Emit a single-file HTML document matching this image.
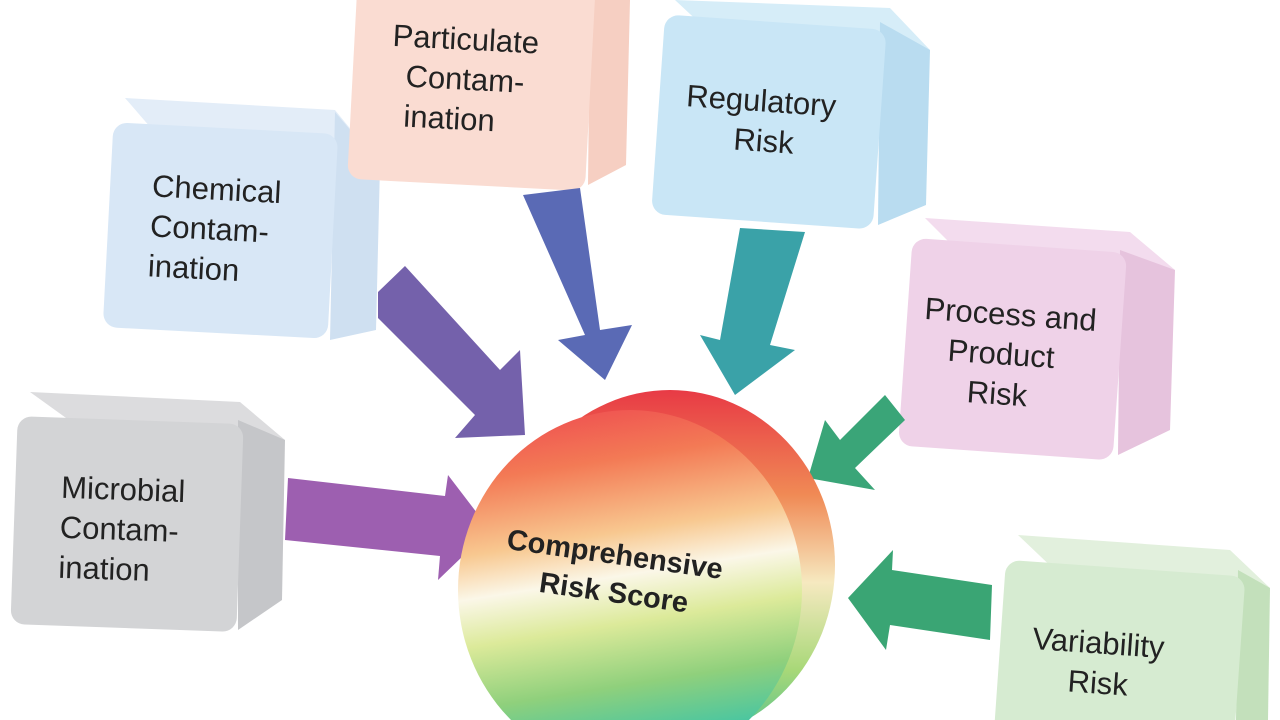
<!DOCTYPE html>
<html><head><meta charset="utf-8"><style>
html,body{margin:0;padding:0;background:#fff;width:1280px;height:720px;overflow:hidden;}
svg{display:block;}
text{font-family:"Liberation Sans",sans-serif;fill:#222;}
</style></head><body>
<svg width="1280" height="720" viewBox="0 0 1280 720">
<defs>
<linearGradient id="sph" x1="0" y1="0" x2="0.15" y2="1">
<stop offset="0" stop-color="#ee4650"/>
<stop offset="0.2" stop-color="#f37a55"/>
<stop offset="0.4" stop-color="#f8c890"/>
<stop offset="0.52" stop-color="#fbf7e8"/>
<stop offset="0.65" stop-color="#dcea9a"/>
<stop offset="0.82" stop-color="#8fd07c"/>
<stop offset="1" stop-color="#3cc4a8"/>
</linearGradient>
<linearGradient id="rim" x1="0" y1="0" x2="0" y2="1">
<stop offset="0" stop-color="#e83a45"/>
<stop offset="0.3" stop-color="#f08a55"/>
<stop offset="0.55" stop-color="#f6e9c0"/>
<stop offset="0.8" stop-color="#a8d878"/>
<stop offset="1" stop-color="#50c090"/>
</linearGradient>
</defs>

<polygon points="125,98 335,110 380,165 170,150" fill="#e3edf8"/>
<polygon points="335,112 380,165 376,330 330,340" fill="#cfe0f1"/>
<rect x="108" y="128" width="225" height="205" rx="14" fill="#d8e7f6" transform="rotate(3 220 230)"/>
<g transform="rotate(3 220 230)" font-size="31">
<text x="150" y="200">Chemical</text>
<text x="150" y="240">Contam-</text>
<text x="150" y="280">ination</text></g>

<polygon points="590,0 630,0 626,165 588,185" fill="#f6cfc2"/>
<rect x="352" y="-20" width="238" height="205" rx="14" fill="#fadcd2" transform="rotate(3 470 90)"/>
<g transform="rotate(3 470 90)" font-size="31">
<text x="390" y="50">Particulate</text>
<text x="405" y="90">Contam-</text>
<text x="405" y="130">ination</text></g>

<polygon points="675,0 890,8 930,50 720,42" fill="#d6edf8"/>
<polygon points="880,22 930,50 926,205 878,225" fill="#b9dcf0"/>
<rect x="658" y="22" width="222" height="200" rx="14" fill="#c9e6f6" transform="rotate(4 770 120)"/>
<g transform="rotate(4 770 120)" font-size="31">
<text x="685" y="112">Regulatory</text>
<text x="735" y="152">Risk</text></g>

<polygon points="925,218 1130,232 1175,270 965,258" fill="#f3dcee"/>
<polygon points="1120,250 1175,270 1170,430 1118,455" fill="#e6c3dd"/>
<rect x="905" y="245" width="215" height="208" rx="14" fill="#efd2e8" transform="rotate(4 1010 350)"/>
<g transform="rotate(4 1010 350)" font-size="31">
<text x="922" y="325">Process and</text>
<text x="948" y="365">Product</text>
<text x="970" y="405">Risk</text></g>

<polygon points="30,392 240,402 285,440 80,428" fill="#dcdcde"/>
<polygon points="238,420 285,440 282,600 238,630" fill="#c5c6c9"/>
<rect x="14" y="420" width="226" height="208" rx="14" fill="#d3d4d6" transform="rotate(2 125 525)"/>
<g transform="rotate(2 125 525)" font-size="31">
<text x="60" y="500">Microbial</text>
<text x="60" y="540">Contam-</text>
<text x="60" y="580">ination</text></g>

<polygon points="1018,535 1230,550 1270,588 1060,575" fill="#e2f0dd"/>
<polygon points="1238,570 1270,588 1268,720 1236,720" fill="#c3e0bb"/>
<rect x="1000" y="568" width="240" height="190" rx="14" fill="#d6ebd1" transform="rotate(4 1120 650)"/>
<g transform="rotate(4 1120 650)" font-size="31">
<text x="1032" y="655">Variability</text>
<text x="1070" y="695">Risk</text></g>

<polygon points="378,292 405,266 500,370 520,350 525,435 455,438 475,415 378,318" fill="#7461ab"/>
<polygon points="523,195 580,188 600,330 632,325 605,380 558,340 585,335" fill="#5a6ab5"/>
<polygon points="740,228 805,232 770,345 795,350 735,395 700,335 720,340" fill="#3aa2a8"/>
<polygon points="905,420 885,395 840,440 825,420 808,478 875,490 855,468" fill="#3aa578"/>
<polygon points="288,478 445,496 448,475 490,530 438,580 440,556 285,540" fill="#9d5fb0"/>
<polygon points="992,585 892,570 893,550 848,598 886,650 890,625 990,640" fill="#3aa574"/>

<ellipse cx="670" cy="565" rx="165" ry="175" fill="url(#rim)"/>
<ellipse cx="630" cy="590" rx="172" ry="180" fill="url(#sph)"/>
<g transform="rotate(8 620 585)" font-size="29" font-weight="bold">
<text x="502" y="565" fill="#1a1a1a">Comprehensive</text>
<text x="540" y="603" fill="#1a1a1a">Risk Score</text></g>
</svg>
</body></html>
